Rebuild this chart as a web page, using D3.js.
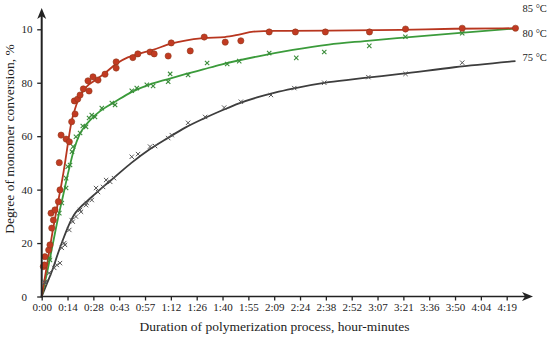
<!DOCTYPE html>
<html><head><meta charset="utf-8">
<script src="https://cdn.jsdelivr.net/npm/d3@7"></script>
<style>
html,body{margin:0;padding:0;background:#fff;}
svg{display:block;font-family:"Liberation Serif","Times New Roman",serif;}
</style></head>
<body><svg id="c" width="550" height="338"></svg>
<script>
// ---- data (minutes, % conversion) ----
const xTickValues = [0,14.4,28.8,43.2,57.6,72,86.4,100.8,115.2,129.6,144,158.4,172.8,187.2,201.6,216,230.4,244.8,259.2];
const xTickLabels = ["0:00","0:14","0:28","0:43","0:57","1:12","1:26","1:40","1:55","2:09","2:24","2:38","2:52","3:07","3:21","3:36","3:50","4:04","4:19"];
const yTickValues = [0,20,40,60,80,100];
const yTickLabels = ["0","20","40","60","80","10"];
const seriesNames = ["85 °C","80 °C","75 °C"];

const pts85 = [[0.9,11.2],[1.5,11.8],[1.8,14.9],[3.9,17.4],[4.6,19.3],[5.2,31.2],[5.6,25.6],[6.5,28.6],[7.4,32.4],[9.3,35.5],[10.2,39.9],[9.8,50.1],[10.8,60.4],[13.6,58.9],[15.4,57.9],[16.7,65.4],[18.6,68.3],[18.2,73.2],[20.1,73.9],[21.4,75.4],[23.2,77.7],[26.4,76.9],[25.8,80.7],[28.6,82.2],[31.4,81.0],[35.3,83.2],[41.5,87.8],[41.5,85.5],[50.8,89.4],[53.6,90.8],[60.4,91.5],[62.7,90.8],[70.5,90.0],[72.2,94.9],[82.8,91.9],[90.6,97.1],[102.3,95.2],[111,95.7],[126.8,99],[141.4,99],[158.1,99],[182.7,99],[202.8,100.1],[234.4,100.4],[264.1,100.4]];
const fit85 = [[0,0],[3,12],[6,24],[9,35],[11,42],[13,50],[15,59],[16.5,65],[18,69],[21,74.5],[25,78.5],[30,81],[35,83.5],[42,87.3],[48,89.5],[55,91],[62,92.3],[72,94.6],[80,95.8],[90,96.7],[102,97.1],[110,98],[118,99.1],[130,99.4],[160,99.5],[200,99.8],[230,100.2],[264.1,100.4]];

const pts80 = [[4.2,14.4],[4.6,13.7],[9.8,31.2],[11.2,35],[13.6,40.6],[13.6,44.3],[14.5,48.6],[15.8,49.2],[16.9,54.2],[17.5,56.1],[19.1,59.8],[21.4,61.2],[22.9,63.8],[24.7,63.5],[26.4,66.8],[27.9,67.9],[29.7,67.2],[33.5,70.5],[39.1,72.4],[40.9,71.7],[50.2,77],[53,78],[58.6,79.2],[62.1,78.8],[70.5,80.4],[71.6,83.3],[81.6,82.9],[92.2,87.4],[103.4,87],[110.1,88.1],[126.8,91.1],[141.9,89.3],[157.5,91.5],[182.6,93.8],[202.7,97.2],[234.4,98.5]];
const fit80 = [[0,0],[3,9],[6,19],[9,29],[12,38],[15,47],[18,55],[21,60.5],[25,64.5],[30,68],[35,70.5],[40,72.5],[50,76.5],[60,79.3],[70,81.3],[80,83.2],[90,85],[100,86.8],[120,89.8],[140,92.3],[160,94.3],[180,95.6],[200,96.8],[230,98.5],[264.1,100.3]];

const pts75 = [[1.8,5.1],[2,5.5],[4.2,8.8],[7,10.7],[8.4,11.8],[10.2,12.5],[11.2,18.2],[12.6,20],[13,19.3],[15.4,24.9],[16.7,28.6],[17.3,28],[19.1,29.9],[21.4,32.4],[21.9,31.7],[24.7,34.2],[25.1,35],[27.9,36.1],[30.3,40.6],[31.4,39.1],[34.2,41],[35.9,43.6],[38.2,42.9],[40.3,44.3],[50.2,52.3],[53.7,53.3],[60.4,56.1],[63.2,56.3],[70.5,59.3],[72.5,60.4],[81.6,65],[91.1,67.2],[101.7,70.7],[111,72.9],[127.8,75.4],[140.8,78],[157.5,80],[182.1,82.1],[202.8,83.3],[234.4,87.5]];
const fit75 = [[0,0],[3,5],[6,10],[9,16],[12,21.5],[15,26.5],[18,30.5],[21,33],[25,35.5],[30,38.5],[35,41.5],[40,44.3],[50,50],[60,55],[70,59.2],[80,63.2],[90,66.5],[100,69.5],[110,72.3],[120,74.5],[130,76.3],[140,77.8],[160,80.2],[180,81.8],[200,83.3],[230,85.8],[264.1,88.1]];

// ---- layout ----
const svg = d3.select("#c");
const x0 = 41.7, y0 = 296.5;
const x = d3.scaleLinear().domain([0,259.2]).range([x0,506.7]);
const y = d3.scaleLinear().domain([0,100]).range([y0,29.3]);

const colors = {c85:"#b8361f", m85:"#c23a22", c80:"#3b9b3b", m80:"#3a8c3a", c75:"#3d3d3d", m75:"#555"};
const line = d3.line().x(d=>x(d[0])).y(d=>y(d[1])).curve(d3.curveMonotoneX);

// curves
svg.append("path").attr("d",line(fit75)).attr("fill","none").attr("stroke",colors.c75).attr("stroke-width",1.8);
svg.append("path").attr("d",line(fit80)).attr("fill","none").attr("stroke",colors.c80).attr("stroke-width",1.8);
svg.append("path").attr("d",line(fit85)).attr("fill","none").attr("stroke",colors.c85).attr("stroke-width",1.8);

// x markers
const cross = d3.symbol().type(d3.symbolX).size(14);
svg.append("g").selectAll("path").data(pts75).join("path")
  .attr("d",cross).attr("transform",d=>`translate(${x(d[0])},${y(d[1])})`)
  .attr("fill","none").attr("stroke",colors.m75).attr("stroke-width",1);
svg.append("g").selectAll("path").data(pts80).join("path")
  .attr("d",cross).attr("transform",d=>`translate(${x(d[0])},${y(d[1])})`)
  .attr("fill","none").attr("stroke",colors.m80).attr("stroke-width",1.1);
svg.append("g").selectAll("circle").data(pts85).join("circle")
  .attr("cx",d=>x(d[0])).attr("cy",d=>y(d[1])).attr("r",3.1)
  .attr("fill",colors.m85).attr("stroke","#8e3a1c").attr("stroke-width",0.6);

// axes
const xAxis = d3.axisBottom(x).tickValues(xTickValues).tickFormat((d,i)=>xTickLabels[i]).tickSize(4).tickSizeOuter(0);
const gx = svg.append("g").attr("transform",`translate(0,${y0})`).call(xAxis)
  .attr("font-family","Liberation Serif, serif").attr("font-size",11);
gx.select(".domain").remove();
gx.selectAll("line").attr("stroke","#222").attr("stroke-width",1.3);
gx.selectAll("text").attr("fill","#222");

const yAxis = d3.axisLeft(y).tickValues(yTickValues).tickFormat((d,i)=>yTickLabels[i]).tickSize(4.5).tickSizeOuter(0);
const gy = svg.append("g").attr("transform",`translate(${x0},0)`).call(yAxis)
  .attr("font-family","Liberation Serif, serif").attr("font-size",11);
gy.select(".domain").remove();
gy.selectAll("line").attr("stroke","#222").attr("stroke-width",1.3);
gy.selectAll("text").attr("fill","#222")
  .attr("text-anchor","start").attr("x",21.5-x0).attr("dy","0.32em");

// axis lines with arrows
svg.append("line").attr("x1",x0).attr("x2",x0).attr("y1",y0+1).attr("y2",16).attr("stroke","#222").attr("stroke-width",2);
svg.append("path").attr("d",`M${x0},8 L${x0-4.5},19 L${x0},16 L${x0+4.5},19 Z`).attr("fill","#222");
svg.append("line").attr("x1",x0-1).attr("x2",525).attr("y1",y0).attr("y2",y0).attr("stroke","#222").attr("stroke-width",1.6);
svg.append("path").attr("d",`M533,${y0} L522,${y0-4.5} L525,${y0} L522,${y0+4.5} Z`).attr("fill","#222");

// titles
svg.append("text").attr("x",274.5).attr("y",331).attr("text-anchor","middle").attr("font-size",13.5).attr("fill","#222")
  .text("Duration of polymerization process, hour-minutes");
svg.append("text").attr("transform","translate(14,139) rotate(-90)").attr("text-anchor","middle").attr("font-size",13.5).attr("fill","#222")
  .text("Degree of monomer conversion, %");

// series labels
const labY = [12,37,61];
svg.append("g").selectAll("text").data(seriesNames).join("text")
  .attr("x",522.5).attr("y",(d,i)=>labY[i]).attr("font-size",10.5).attr("fill","#222").text(d=>d);
</script></body></html>
